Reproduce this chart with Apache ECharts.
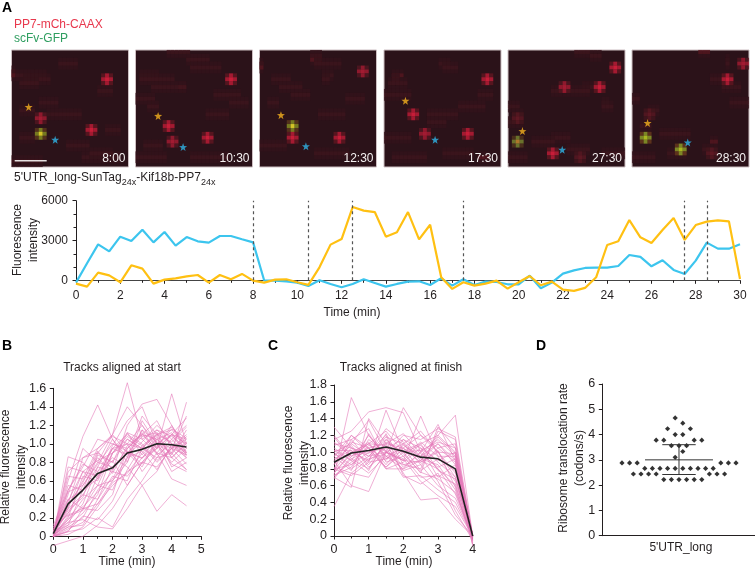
<!DOCTYPE html>
<html><head><meta charset="utf-8">
<style>html,body{margin:0;padding:0;background:#fff}#c{width:755px;height:570px}</style>
<script src="https://cdn.jsdelivr.net/npm/echarts@6/dist/echarts.min.js"></script>
</head><body><div id="c"></div>
<script>
// ---------- Panel A micrographs ----------
const frameTimes = ['8:00','10:30','12:30','17:30','27:30','28:30'];
// [column,row,kind] on a 30 x 30 image
const frameSpots = [
 [[24.4,7.1,'red'],[7.2,17.5,'dim'],[7.8,21.4,'yellow'],[20,20.5,'red']],
 [[24.7,7.9,'red'],[8.5,19.9,'red'],[9.3,23.7,'dim'],[18.7,22.7,'red']],
 [[26.9,5.4,'dim'],[8.7,19,'yellow'],[8.7,22.6,'red'],[20.4,22.7,'red']],
 [[26.9,7.1,'red'],[7.7,16,'red'],[10.3,21.6,'dim'],[21.2,21.8,'red']],
 [[27.9,4.3,'red'],[23,9.6,'red'],[14,9.9,'dim'],[2.2,17.3,'faint'],[2,23.9,'olive'],[11,26.6,'red'],[18.9,27.6,'faint']],
 [[28,3.8,'dim'],[24.4,7.9,'red'],[3,22.4,'lime'],[12.9,25.9,'lime'],[20.4,26,'faint'],[4,16.7,'faint']]
];
const frameOrangeStar = [[4.4,14.6],[5.8,16.9],[5.5,16.7],[5.5,13],[3.7,20.8],[4,18.7]];
const frameBlueStar = [[11.2,23],[12.2,24.9],[11.9,24.7],[13.1,23],[13.9,25.6],[14.3,23.7]];
// membrane haze: [column,row,length,strength]
const frameHaze = [
 [[0,5,1,2],[0,6,1,2],[1,6,8,1],[3,7,7,1],[2,8,5,1],[7,13,5,1],[2,15,4,1],[9,16,9,1],[14,24,6,1],[18,27,10,1],[0,28,8,1],[22,10,4,1],[24,20,4,1],[2,22,4,1],[12,3,5,1],[20,26,6,1]],
 [[8,0,6,1],[13,2,6,1],[14,4,8,1],[11,9,2,2],[1,6,5,1],[1,7,9,1],[4,9,9,1],[0,12,5,1],[3,14,3,1],[18,16,6,1],[2,24,5,1],[14,27,10,1],[20,11,7,1],[24,13,5,1],[0,27,8,1]],
 [[13,1,3,2],[13,2,3,2],[14,3,7,1],[0,3,1,2],[0,4,1,2],[16,6,3,1],[16,7,2,1],[3,7,5,1],[5,9,6,1],[8,11,5,1],[15,16,7,1],[2,13,3,1],[0,24,7,1],[14,26,9,1],[22,12,5,1]],
 [[14,3,3,1],[15,4,4,1],[2,6,3,2],[2,7,2,2],[1,8,5,1],[0,11,7,1],[19,14,7,1],[11,16,8,1],[0,22,7,1],[15,26,8,1],[2,27,9,1],[24,27,3,2],[24,11,4,1],[11,18,5,1]],
 [[17,0,4,1],[21,1,3,1],[19,9,3,1],[11,10,10,1],[0,14,3,1],[1,16,3,1],[0,18,4,1],[24,13,2,1],[24,14,3,1],[11,22,5,1],[6,23,6,1],[15,25,6,1],[0,27,5,1],[24,26,6,1]],
 [[17,0,3,2],[24,2,1,1],[24,3,1,1],[20,7,4,1],[23,9,5,1],[4,15,3,1],[0,12,2,1],[2,19,3,1],[7,21,8,1],[20,23,2,2],[18,25,2,1],[0,27,6,1],[25,13,5,1],[9,26,5,1]]
];

// ---------- Panel A trace, one value per half minute ----------
const traceTimes = [0,.5,1,1.5,2,2.5,3,3.5,4,4.5,5,5.5,6,6.5,7,7.5,8,8.5,9,9.5,10,10.5,11,11.5,12,12.5,13,13.5,14,14.5,15,15.5,16,16.5,17,17.5,18,18.5,19,19.5,20,20.5,21,21.5,22,22.5,23,23.5,24,24.5,25,25.5,26,26.5,27,27.5,28,28.5,29,29.5,30];
const blueTrace = [-175,1280,2710,2180,3290,2960,3815,2860,3640,2610,3260,2940,2840,3340,3340,3090,2860,0,-20,-75,-175,-425,0,-275,-525,-275,75,-200,-475,-275,-100,-75,-350,150,-400,75,-350,-100,-125,-300,-300,350,-600,-175,500,750,930,950,950,1080,1910,1760,1055,1510,780,480,1480,2840,2385,2385,2710];
const orangeTrace = [-250,-475,580,375,-150,1130,880,-250,50,150,300,400,-175,400,75,480,-25,-175,50,75,-150,-350,980,2690,3110,5520,5250,5145,3290,3615,5145,3090,4190,225,-650,-150,-400,-250,-25,-625,-150,325,-375,-100,-700,-800,-575,225,2660,2940,4540,3240,2810,3790,4690,3040,4165,4420,4520,4440,100];
const frameMarks = [8,10.5,12.5,17.5,27.5,28.5];

// ---------- Panel B ----------
const startTimes = [0,.5,1,1.5,2,2.5,3,3.5,4,4.5];
const startMean = [.03,.35,.5,.68,.74,.9,.94,1,.99,.965];
const startTracks = [
[0,.86,.8,.62,.95,1,.95,1.12,1,.9],[.02,.6,1.08,1.42,1.05,.85,1.15,1.02,.95,.88],[.05,.25,.55,.8,1.1,1.66,1.05,.9,1.1,1],
[0,.1,.2,.5,.7,1.2,1.43,1.48,1.2,.95],[.1,.4,.5,.9,1.1,1.4,1.2,.95,1.54,1],[0,.05,.08,.2,.1,.4,.6,.85,.9,1.45],
[-.1,-.05,0,.12,.3,.55,.8,1,1.1,1.05],[0,.15,.18,.1,.08,.3,.55,.7,1,.85],[.03,.3,.45,.7,.85,.75,.55,.27,.45,.33],
[0,.2,.65,.6,.9,1,.7,.9,.62,.55],[.02,.45,.95,.8,.75,.9,1.08,1.12,.85,.72],[.1,.23,.3,.35,.55,.7,.8,.75,.95,1.3],
[0,.5,.75,1.05,1,.95,1.1,1.05,.88,1.15],[.05,.12,.25,.45,.9,1.05,.95,1.1,1.18,1],[.04,.35,.85,.95,1.1,.9,.85,.95,1.1,.88],
[0,.08,.15,.35,.6,.8,1.25,1,.8,.95],[.02,.55,.5,.75,.7,.65,.85,1,.7,.8],[.08,.3,.7,.65,.95,1.1,1,.82,.95,1.1],
[0,.18,.4,.55,.5,.85,1.3,1.1,1.15,.98],[.03,.7,.85,.9,.8,1.05,.95,1.15,1,.87],[0,.05,.3,.28,.45,.95,1.1,1.25,.95,1.05],
[.06,.25,.45,.4,.65,.6,.95,.85,1.05,1.2],[0,.4,.3,.55,.9,1.12,.88,1.05,1.12,.9],[.05,.15,.35,.75,1.05,.8,1.15,.9,.85,1],
[.02,.1,.12,.4,.75,.9,.75,1.05,.9,.72],[0,.32,.6,.85,.68,.98,1.1,.95,1.1,1.28],[.12,.5,.78,.7,.95,.88,1.02,1.2,1.05,.88],
[0,.22,.28,.65,.82,.55,.8,.95,1.2,.9],[.03,.65,.62,.95,1.08,1,1.2,1,.9,1.08],[0,.06,.22,.18,.38,.72,.98,1.1,1.02,1.18],
[.05,.38,.7,.55,.6,.85,.92,.72,.98,.85],[0,.28,.42,.88,.8,1.12,1.05,1.15,1.08,.95],[.02,.12,.5,.62,.98,1.25,1.4,1,.78,.7],
[.07,.48,.55,.78,1,.92,.78,.98,1.16,1.06],[0,.02,.1,.32,.58,.68,.9,1.1,.85,1.02],[.04,.33,.58,.92,.72,.95,1.12,.88,1,.92],
[0,.75,.7,.82,.9,1.08,.98,.8,.95,.78],[.03,.18,.32,.48,.62,.92,.84,1.08,.75,.85]
];

// ---------- Panel C ----------
const finishTimes = [0,.5,1,1.5,2,2.5,3,3.5,4];
const finishMean = [.88,.99,1.02,1.06,1.01,.94,.92,.8,0];
const finishTracks = [
[.35,.75,.7,1,.9,1.1,1.2,1.44,0],[1.3,1.05,.95,1,1.1,.9,1.1,.9,-.05],[.72,1.65,1.2,.95,.8,1,.8,.6,0],
[.9,.6,.53,1,1.53,1.2,1,.7,0],[1.15,1.25,1.48,1.53,1.47,1,1.33,.9,-.1],[.7,.58,1.4,1.1,.75,.43,.45,.2,0],
[1,1.1,1.38,1,.9,1.43,.95,.95,0],[.8,.72,.88,1.5,1,.75,1.3,1.05,0],[.95,1.2,1.05,.8,.8,.9,.8,.5,-.02],
[1.2,.95,1.1,1.25,1,.95,1.1,.85,0],[.75,1,.9,1.05,1.15,1.05,.7,.85,0],[1.05,.9,1.2,.95,.85,.8,1.25,1.15,-.08],
[.85,1.1,.95,1.15,.95,1.12,.95,.65,0],[.68,.95,1.1,.85,1.1,.85,.6,.45,0],[1.1,1.05,.85,1.1,1.05,1.2,1.05,1.1,0],
[.8,.85,1,1.2,.72,.62,.75,.3,-.05],[.95,1.12,1.05,.9,1.15,.95,1.2,1,0],[.72,.82,1.15,1,.9,.88,1,.98,-.12],
[1.02,.9,.75,.95,1.05,.78,.92,.78,0],[.88,1,1.1,1.08,.82,1,1.15,.95,0],[1.18,.92,1.02,.82,1,1.08,.88,.7,0],
[.78,1.05,.98,1.28,1.12,.92,.85,.55,-.03],[.98,.85,1.08,1.02,.7,.72,.55,.4,0],[.82,.75,.92,.98,1.2,1.15,1.28,1.18,0],
[1.08,1.15,1.28,.88,.95,.7,.72,.62,-.06],[.7,.92,.8,1.12,1,1.02,1.12,1.05,0],[.92,1.02,.88,.92,1.08,.95,.65,.25,0],
[.85,1.2,1,1.05,.78,.85,1.05,.88,0],[1,.8,.95,1.18,1.1,1.25,1,.75,-.02],[.75,.98,1.12,.8,.88,1.05,.9,1,0],
[.9,1.08,.82,1,.92,.65,.48,.35,0],[1.12,.95,1.05,1.1,1.22,.98,.82,.92,-.04],[.95,.78,1.22,.92,1.02,1.1,.78,.68,0],
[.8,1.15,.9,1.22,.85,.9,1.18,.98,0],[.72,.88,1.05,.82,1.05,.88,1.02,.58,-.1],[1.02,1.02,.78,1.15,.98,.76,.68,.52,0]
];

// ---------- Panel D: [horizontal dot slot, rate] ----------
const rateDots = [[-.5,4.66],[.5,4.45],[-1.5,4.23],[1.5,4.23],[-.5,4],[.5,4],[-3,3.78],[-2,3.78],[2,3.78],[3,3.78],[-1,3.56],[0,3.56],[1,3.56],[.5,3.33],[-.5,3.1],
[-7.5,2.88],[-6.5,2.88],[-5.5,2.88],[5.5,2.88],[6.5,2.88],[7.5,2.88],
[-4.5,2.66],[-3.5,2.66],[-2.5,2.66],[-1.5,2.66],[-.5,2.66],[.5,2.66],[1.5,2.66],[2.5,2.66],[3.5,2.66],[4.5,2.66],
[-6,2.44],[-5,2.44],[-4,2.44],[-3,2.44],[4,2.44],[5,2.44],[6,2.44],
[-2,2.22],[-1,2.22],[0,2.22],[1,2.22],[2,2.22],[3,2.22]];
const rateMean = 3.0, rateUpper = 3.6, rateLower = 2.42;
const rateCategory = "5'UTR_long";

// ---------- styling ----------
const FONT = '"Liberation Sans", Arial, sans-serif';
const STAR = 'path://M50 0 L62 35 L100 36 L70 59 L81 95 L50 74 L19 95 L30 59 L0 36 L38 35 Z';
const INK = '#231f20';
const kinds = {
  red:   ['#611720','#c21d37','#ef2040'],
  dim:   ['#541620','#a81c32','#c01e38'],
  faint: ['#42151d','#591822','#6a1a26'],
  yellow:['#5c3a1c','#8a9422','#fff02a'],
  olive: ['#52341c','#7a8a30','#d09030'],
  lime:  ['#683a1c','#90a428','#c8e020']
};
const hazeColors = {0:'#33131a',1:'#3f151d',2:'#56171f'};
function spotCells(s){
  const c=Math.floor(s[0]), r=Math.floor(s[1]), k=kinds[s[2]], out=[];
  for(let i=-1;i<=1;i++)for(let j=-1;j<=1;j++){
    const d=Math.abs(i)+Math.abs(j);
    out.push({value:[c+i+.5,r+j+.5],itemStyle:{color:k[d===0?2:d===1?1:0]}});
  }
  return out;
}
function hazeCells(h){
  const soft=[],core=[];
  for(let i=0;i<h[2];i++){
    soft.push({value:[h[0]+i+.5,h[1]-.5],itemStyle:{color:hazeColors[0]}});
    soft.push({value:[h[0]+i+.5,h[1]+1.5],itemStyle:{color:hazeColors[0]}});
    core.push({value:[h[0]+i+.5,h[1]+.5],itemStyle:{color:hazeColors[h[3]]}});
  }
  return soft.concat(core);
}
const PL=[11.5,135.5,259.5,384,508,632], PT=50, PS=117;
const grids=[],xAxes=[],yAxes=[],series=[],graphic=[];
PL.forEach((l,i)=>{
  grids.push({left:l,top:PT,width:PS,height:PS,show:true,backgroundColor:'#2b1219',borderColor:'#cdbfc2',borderWidth:1});
  xAxes.push({type:'value',gridIndex:i,min:0,max:30,show:false});
  yAxes.push({type:'value',gridIndex:i,min:0,max:30,inverse:true,show:false});
  const cells=[].concat(...frameHaze[i].map(hazeCells),...frameSpots[i].map(spotCells));
  series.push({type:'scatter',xAxisIndex:i,yAxisIndex:i,symbol:'rect',symbolSize:4,data:cells,silent:true,z:2,large:false,clip:true});
  series.push({type:'scatter',xAxisIndex:i,yAxisIndex:i,symbol:STAR,symbolSize:8,data:[frameOrangeStar[i]],itemStyle:{color:'#f5b21e'},z:4});
  series.push({type:'scatter',xAxisIndex:i,yAxisIndex:i,symbol:STAR,symbolSize:8,data:[frameBlueStar[i]],itemStyle:{color:'#2fb4e6'},z:4});
  graphic.push({type:'text',z:50,x:l+PS-3,y:159,style:{text:frameTimes[i],font:'12px '+FONT,fill:'#f4f0f0',textAlign:'right',textVerticalAlign:'middle'}});
});
function axisBase(g,o){
  return Object.assign({gridIndex:g,type:'value',
    axisLine:{show:true,onZero:false,lineStyle:{color:INK,width:1}},
    axisTick:{show:true,length:3.5,lineStyle:{color:INK}},
    splitLine:{show:false},
    axisLabel:{color:INK,fontSize:12.5,fontFamily:FONT,margin:7,hideOverlap:false,showMinLabel:true,showMaxLabel:true}},o);
}
function minor(n){return {show:true,splitNumber:n,length:2.5,lineStyle:{color:INK}}}
const decimal=v=>v===0?'0':v.toFixed(1);
// A trace = grid 6
grids.push({left:76,top:200.7,width:664,height:79.6});
xAxes.push(axisBase(6,{min:0,max:30,interval:2,minorTick:minor(2),axisLabel:{color:INK,fontSize:12,fontFamily:FONT,margin:9}}));
yAxes.push(axisBase(6,{min:0,max:6000,interval:3000,minorTick:minor(3),axisLabel:{color:INK,fontSize:12,fontFamily:FONT,margin:8,formatter:v=>String(v)}}));
xAxes[6].axisLine.lineStyle={color:'#444',width:1.2};
series.push({type:'line',xAxisIndex:6,yAxisIndex:6,symbol:'none',clip:false,silent:true,z:3,
  data:traceTimes.map((t,i)=>[t,blueTrace[i]]),lineStyle:{color:'#3cc5ee',width:2.2}});
series.push({type:'line',xAxisIndex:6,yAxisIndex:6,symbol:'none',clip:false,silent:true,z:4,
  data:traceTimes.map((t,i)=>[t,orangeTrace[i]]),lineStyle:{color:'#ffc012',width:2.2},
  markLine:{silent:true,symbol:'none',animation:false,label:{show:false},
    lineStyle:{color:'#555',type:[3,3],width:1.2},data:frameMarks.map(x=>({xAxis:x}))}});
// B = grid 7
grids.push({left:53.3,top:388.3,width:148,height:148});
xAxes.push(axisBase(7,{min:0,max:5,interval:1,minorTick:minor(2)}));
yAxes.push(axisBase(7,{min:0,max:1.6,interval:.2,axisLabel:{color:INK,fontSize:12.5,fontFamily:FONT,margin:7,formatter:decimal}}));
startTracks.forEach(t=>series.push({type:'line',xAxisIndex:7,yAxisIndex:7,symbol:'none',clip:false,silent:true,z:2,
  data:startTimes.map((x,i)=>[x,t[i]]),lineStyle:{color:'#e478b8',width:.8,opacity:.75}}));
series.push({type:'line',xAxisIndex:7,yAxisIndex:7,symbol:'none',silent:true,z:5,
  data:startTimes.map((x,i)=>[x,startMean[i]]),lineStyle:{color:'#222',width:1.6}});
// C = grid 8
grids.push({left:334,top:385,width:138.7,height:151});
xAxes.push(axisBase(8,{min:0,max:4,interval:1,minorTick:minor(2)}));
yAxes.push(axisBase(8,{min:0,max:1.8,interval:.2,axisLabel:{color:INK,fontSize:12.5,fontFamily:FONT,margin:7,formatter:decimal}}));
finishTracks.forEach(t=>series.push({type:'line',xAxisIndex:8,yAxisIndex:8,symbol:'none',clip:false,silent:true,z:2,
  data:finishTimes.map((x,i)=>[x,t[i]]),lineStyle:{color:'#e478b8',width:.8,opacity:.75}}));
series.push({type:'line',xAxisIndex:8,yAxisIndex:8,symbol:'none',silent:true,z:5,
  data:finishTimes.map((x,i)=>[x,finishMean[i]]),lineStyle:{color:'#222',width:1.6}});
// D = grid 9
grids.push({left:602.3,top:384,width:152.4,height:151.7});
xAxes.push({gridIndex:9,type:'value',min:-10.09,max:9.96,
  axisLine:{show:true,onZero:false,lineStyle:{color:INK}},axisTick:{show:false},splitLine:{show:false},
  axisLabel:{show:true,customValues:[0.25],formatter:()=>rateCategory,color:INK,fontSize:12,fontFamily:FONT,margin:6}});
yAxes.push(axisBase(9,{min:0,max:6,interval:1}));
series.push({type:'scatter',xAxisIndex:9,yAxisIndex:9,symbol:'diamond',symbolSize:5.2,silent:true,z:3,data:rateDots,itemStyle:{color:'#000'}});
function ruleSeries(pts){return {type:'line',xAxisIndex:9,yAxisIndex:9,symbol:'none',silent:true,z:4,data:pts,lineStyle:{color:'#333',width:1}}}
series.push(ruleSeries([[-4.47,rateMean],[4.47,rateMean]]));
series.push(ruleSeries([[-2.2,rateUpper],[2.2,rateUpper]]));
series.push(ruleSeries([[-2.2,rateLower],[2.2,rateLower]]));
series.push(ruleSeries([[0,rateLower],[0,rateUpper]]));

// text
function txt(s,x,y,o){graphic.push({type:'text',z:50,x:x,y:y,style:Object.assign({text:s,font:'12px '+FONT,fill:INK,textAlign:'center',textVerticalAlign:'middle',lineHeight:15},o||{})});}
function rot(s,x,y,o){graphic.push({type:'text',z:50,x:x,y:y,rotation:Math.PI/2,style:Object.assign({text:s,font:'12px '+FONT,fill:INK,textAlign:'center',textVerticalAlign:'middle',lineHeight:16},o||{})});}
const BOLD='bold 14px '+FONT;
txt('A',7,8,{font:BOLD,fill:'#000'});
txt('B',7,346,{font:BOLD,fill:'#000'});
txt('C',273,346,{font:BOLD,fill:'#000'});
txt('D',541,346,{font:BOLD,fill:'#000'});
txt('PP7-mCh-CAAX',14,25,{textAlign:'left',font:'12px '+FONT,fill:'#e8384d'});
txt('scFv-GFP',14,39,{textAlign:'left',font:'12px '+FONT,fill:'#2f9e60'});
graphic.push({type:'text',z:50,x:14,y:170,style:{
  text:"{m|5'UTR_long-SunTag}{s|24x}{m|-Kif18b-PP7}{s|24x}",
  rich:{m:{font:'12px '+FONT,fill:INK,lineHeight:14,verticalAlign:'bottom'},s:{font:'9px '+FONT,fill:INK,lineHeight:11,verticalAlign:'bottom',padding:[0,0,-3,0]}}}});
txt('Time (min)',352,313);
rot('Fluorescence\nintensity',25.5,240);
txt('Tracks aligned at start',122,368);
rot('Relative fluorescence\nintensity',14,467);
txt('Time (min)',127,562);
txt('Tracks aligned at finish',401,368);
rot('Relative fluorescence\nintensity',296.5,463);
txt('Time (min)',404,562);
rot('Ribosome translocation rate\n(codons/s)',571.5,458);
// scale bar
graphic.push({type:'line',z:50,shape:{x1:14.7,y1:160.7,x2:46.7,y2:160.7},style:{stroke:'#e6e0e0',lineWidth:1.5}});

const chart=echarts.init(document.getElementById('c'),null,{renderer:'canvas'});
chart.setOption({animation:false,backgroundColor:'#fff',textStyle:{fontFamily:FONT},grid:grids,xAxis:xAxes,yAxis:yAxes,series:series,graphic:graphic});
</script></body></html>
